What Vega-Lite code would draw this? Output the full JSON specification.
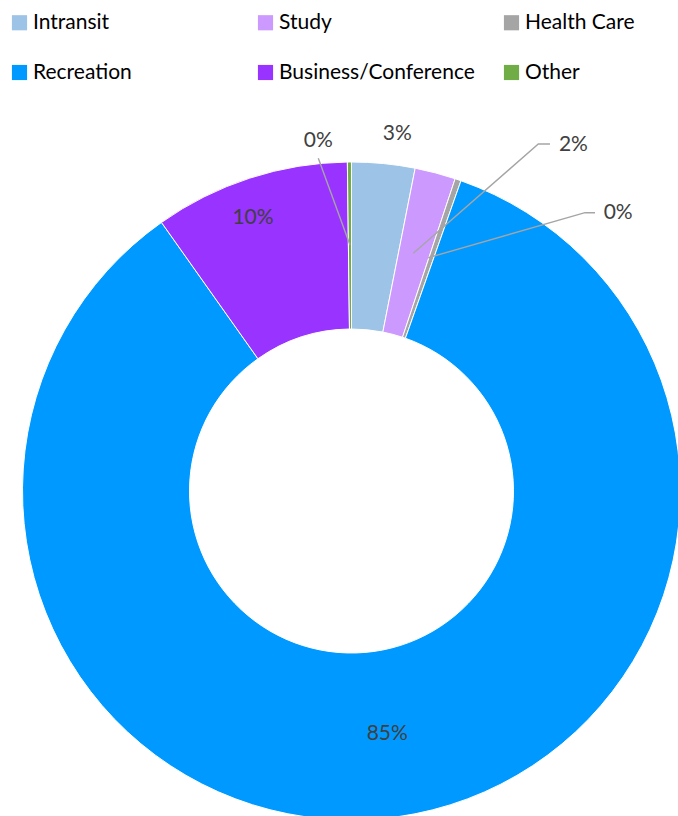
{
  "$schema": "https://vega.github.io/schema/vega-lite/v6.json",
  "autosize": {"type": "none"},
  "width": 653,
  "height": 650,
  "padding": {"left": 25, "top": 166, "right": 0, "bottom": 0},
  "background": "white",
  "config": {"view": {"stroke": null}, "font": "Lato"},
  "layer": [
    {
      "data": {
        "values": [
          {"cat": "Intransit", "share": 0.031, "o": 1},
          {"cat": "Study", "share": 0.020, "o": 2},
          {"cat": "Health Care", "share": 0.003, "o": 3},
          {"cat": "Recreation", "share": 0.848, "o": 4},
          {"cat": "Business/Conference", "share": 0.096, "o": 5},
          {"cat": "Other", "share": 0.002, "o": 6}
        ]
      },
      "transform": [
        {"stack": "share", "groupby": [], "sort": [{"field": "o", "order": "ascending"}], "as": ["s0", "s1"]},
        {"calculate": "(datum.s0 + datum.s1) / 2", "as": "mid"}
      ],
      "layer": [
        {
          "mark": {"type": "arc", "outerRadius": 329, "innerRadius": 162, "stroke": "white", "strokeWidth": 1},
          "encoding": {
            "theta": {"field": "s0", "type": "quantitative", "scale": {"domain": [0, 1]}},
            "theta2": {"field": "s1"},
            "color": {
              "field": "cat",
              "type": "nominal",
              "scale": {
                "domain": ["Intransit", "Study", "Health Care", "Recreation", "Business/Conference", "Other"],
                "range": ["#9DC3E6", "#CC99FF", "#A5A5A5", "#0099FF", "#9933FF", "#70AD47"]
              },
              "legend": {
                "orient": "none",
                "legendX": -16,
                "legendY": -154,
                "direction": "horizontal",
                "columns": 3,
                "gridAlign": "all",
                "columnPadding": 26,
                "rowPadding": 28,
                "padding": 0,
                "title": null,
                "symbolType": "square",
                "symbolSize": 230,
                "symbolStrokeWidth": 0,
                "symbolOffset": 0,
                "labelFont": "Lato",
                "labelFontSize": 21,
                "labelColor": "#000000",
                "labelOffset": 3,
                "labelLimit": 400
              }
            }
          }
        },
        {
          "transform": [{"filter": "datum.cat === 'Intransit'"}],
          "mark": {"type": "text", "radius": 360, "thetaOffset": 0.03, "fontSize": 21, "color": "#404040", "align": "center", "baseline": "middle"},
          "encoding": {"theta": {"field": "mid", "type": "quantitative", "stack": null}, "text": {"field": "share", "format": ".0%"}}
        },
        {
          "transform": [{"filter": "datum.cat === 'Study'"}],
          "mark": {"type": "text", "radius": 411, "thetaOffset": 0.3128, "fontSize": 21, "color": "#404040", "align": "center", "baseline": "middle"},
          "encoding": {"theta": {"field": "mid", "type": "quantitative", "stack": null}, "text": {"field": "share", "format": ".0%"}}
        },
        {
          "transform": [{"filter": "datum.cat === 'Health Care'"}],
          "mark": {"type": "text", "radius": 385, "thetaOffset": 0.4353, "fontSize": 21, "color": "#404040", "align": "center", "baseline": "middle"},
          "encoding": {"theta": {"field": "mid", "type": "quantitative", "stack": null}, "text": {"field": "share", "format": ".0%"}}
        },
        {
          "transform": [{"filter": "datum.cat === 'Recreation'"}],
          "mark": {"type": "text", "radius": 246, "thetaOffset": -0.0075, "fontSize": 21, "color": "#404040", "align": "center", "baseline": "middle"},
          "encoding": {"theta": {"field": "mid", "type": "quantitative", "stack": null}, "text": {"field": "share", "format": ".0%"}}
        },
        {
          "transform": [{"filter": "datum.cat === 'Business/Conference'"}],
          "mark": {"type": "text", "radius": 290, "thetaOffset": -0.0325, "fontSize": 21, "color": "#404040", "align": "center", "baseline": "middle"},
          "encoding": {"theta": {"field": "mid", "type": "quantitative", "stack": null}, "text": {"field": "share", "format": ".0%"}}
        },
        {
          "transform": [{"filter": "datum.cat === 'Other'"}],
          "mark": {"type": "text", "radius": 352, "thetaOffset": -0.088, "fontSize": 21, "color": "#404040", "align": "center", "baseline": "middle"},
          "encoding": {"theta": {"field": "mid", "type": "quantitative", "stack": null}, "text": {"field": "share", "format": ".0%"}}
        }
      ]
    },
    {
      "data": {
        "values": [
          {"cat": "Study", "i": 1, "px": 0.1878, "py": 0.7225},
          {"cat": "Study", "i": 2, "px": 0.5678, "py": 1.0547},
          {"cat": "Study", "i": 3, "px": 0.6033, "py": 1.0547},
          {"cat": "Health Care", "i": 1, "px": 0.2334, "py": 0.7091},
          {"cat": "Health Care", "i": 2, "px": 0.7097, "py": 0.8459},
          {"cat": "Health Care", "i": 3, "px": 0.7401, "py": 0.8459},
          {"cat": "Other", "i": 1, "px": -0.0046, "py": 0.7477},
          {"cat": "Other", "i": 2, "px": -0.1009, "py": 1.0112}
        ]
      },
      "mark": {"type": "line", "color": "#A5A5A5", "strokeWidth": 1.4},
      "encoding": {
        "x": {"field": "px", "type": "quantitative", "scale": {"domain": [-0.9924, 0.9924], "nice": false, "zero": false}, "axis": null},
        "y": {"field": "py", "type": "quantitative", "scale": {"domain": [-0.98784, 0.98784], "nice": false, "zero": false}, "axis": null},
        "detail": {"field": "cat"},
        "order": {"field": "i"}
      }
    }
  ]
}
